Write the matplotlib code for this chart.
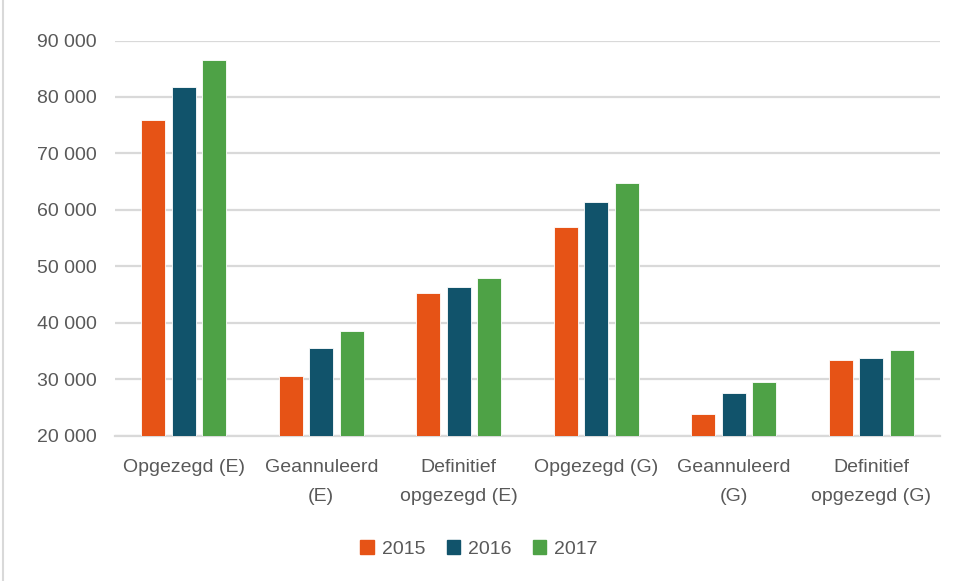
import numpy as np
import matplotlib.pyplot as plt
from matplotlib.ticker import FuncFormatter
from matplotlib.patches import Patch

categories = ["Opgezegd (E)", "Geannuleerd\n(E)", "Definitief\nopgezegd (E)",
              "Opgezegd (G)", "Geannuleerd\n(G)", "Definitief\nopgezegd (G)"]
years = ["2015", "2016", "2017"]
v2015 = [75900, 30650, 45250, 57050, 23800, 33350]
v2016 = [81800, 35500, 46350, 61350, 27500, 33850]
v2017 = [86600, 38600, 47900, 64750, 29500, 35200]
colors = ["#E65316", "#11536B", "#4EA246"]

plt.rcParams['font.family'] = ['Liberation Sans', 'DejaVu Sans']

fig = plt.figure(figsize=(9.58, 5.81), dpi=100)
ax = fig.add_axes([115/958, 1-435.7/581, 825/958, 395.2/581])

x = np.arange(len(categories))
step = 0.223
width = 0.175
for i, vals in enumerate([v2015, v2016, v2017]):
    ax.bar(x + (i-1)*step, np.array(vals) - 20000, width, bottom=20000,
           color=colors[i], edgecolor='white', linewidth=0.6, zorder=3)

ax.set_ylim(20000, 90000)
ax.set_xlim(-0.5, len(categories) - 0.5)
ax.set_yticks(np.arange(20000, 90001, 10000))
ax.yaxis.set_major_formatter(FuncFormatter(lambda v, p: f"{int(v):,}".replace(",", " ")))
ax.set_xticks(x)
ax.set_xticklabels(categories, linespacing=1.9)
ax.grid(axis='y', color='#D9D9D9', linewidth=1.6, zorder=0)
for s in ['top', 'right', 'left']:
    ax.spines[s].set_visible(False)
ax.spines['bottom'].set_color('#D9D9D9')
ax.spines['bottom'].set_linewidth(1.6)
ax.tick_params(axis='both', length=0, colors='#595959', labelsize=14)
ax.tick_params(axis='y', pad=13)
ax.tick_params(axis='x', pad=17)

handles = [Patch(color=c, label=y) for c, y in zip(colors, years)]
fig.legend(handles=handles, loc='center', bbox_to_anchor=(0.5, 1-549/581), ncol=3,
           frameon=False, fontsize=14, handlelength=0.7, handleheight=0.7,
           handletextpad=0.4, columnspacing=1.1, labelcolor='#595959')

fig.add_artist(plt.Line2D([3/958, 3/958], [0, 1], color='#D9D9D9', linewidth=1.5))

fig.savefig("out.png", dpi=100)
